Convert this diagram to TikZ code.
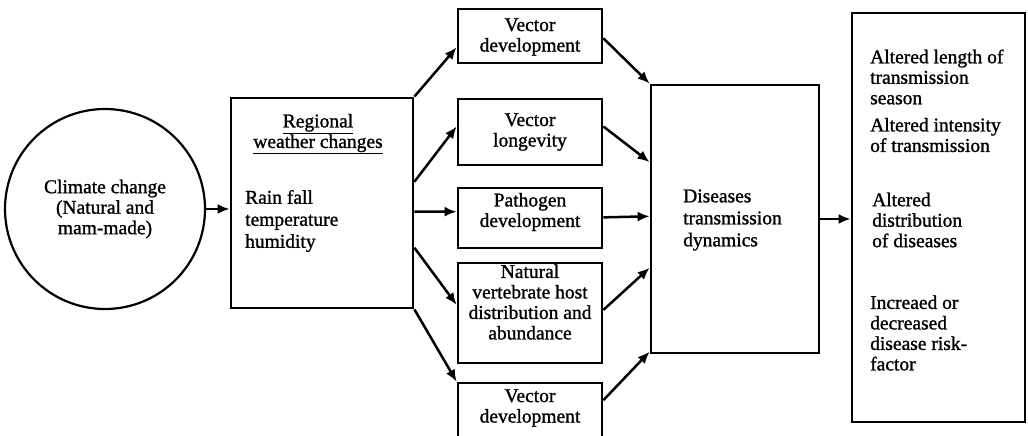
\documentclass[tikz,border=0pt]{standalone}
\usepackage{fontspec}
\setmainfont{Liberation Serif}[FakeBold=1.2,BoldFont=Liberation Serif]
\usetikzlibrary{arrows.meta,calc}
\begin{document}
\begin{tikzpicture}[x=1pt,y=-1pt,
  box/.style={draw,line width=2.8pt,rectangle,inner sep=0pt},
  txt/.style={inner sep=0pt,font=\fontsize{19.5}{20.5}\selectfont\bfseries},
  arr/.style={line width=2.5pt,-{Latex[length=12pt,width=10pt]}}]
\useasboundingbox (0,0) rectangle (1028,436);
% nodes
\node[draw,circle,line width=2.2pt,minimum size=200pt,inner sep=0pt] (circ) at (105,209) {};
\node[box,minimum width=182pt,minimum height=210pt] (reg) at (322,203) {};
\node[box,minimum width=144pt,minimum height=54pt] (v1) at (530,36) {};
\node[box,minimum width=144pt,minimum height=66pt] (v2) at (530,132) {};
\node[box,minimum width=144pt,minimum height=60pt] (v3) at (530,218) {};
\node[box,minimum width=144pt,minimum height=100pt] (v4) at (530,313) {};
\node[box,minimum width=144pt,minimum height=90pt] (v5) at (530,428) {};
\node[box,minimum width=168pt,minimum height=268pt] (dis) at (735,219) {};
\node[box,minimum width=173pt,minimum height=409pt] (out) at (938.5,217.5) {};
% texts
\node[txt,align=center] (tc) at (105,209) {Climate change\\(Natural and\\mam-made)};
\node[txt,align=center] (th) at (318,134) {\underline{Regional}\\\underline{weather changes}};
\node[txt,align=left,anchor=west,font=\fontsize{19.5}{22}\selectfont\bfseries] (tr) at (245,221) {Rain fall\\temperature\\humidity};
\node[txt,align=center] (t1) at (530,37) {Vector\\development};
\node[txt,align=center] (t2) at (530,132) {Vector\\longevity};
\node[txt,align=center] (t3) at (530,212) {Pathogen\\development};
\node[txt,align=center] (t4) at (530,302) {Natural\\vertebrate host\\distribution and\\abundance};
\node[txt,align=center] (t5) at (530,408) {Vector\\development};
\node[txt,align=left,anchor=west,font=\fontsize{19.5}{22}\selectfont\bfseries] (td) at (683,220) {Diseases\\transmission\\dynamics};
\node[txt,align=left,anchor=west] (o1) at (870,77) {Altered length of\\transmission\\season};
\node[txt,align=left,anchor=west] (o2) at (870,135) {Altered intensity\\of transmission};
\node[txt,align=left,anchor=west] (o3) at (872,220) {Altered\\distribution\\of diseases};
\node[txt,align=left,anchor=west] (o4) at (870,333) {Increaed or\\decreased\\disease risk-\\factor};
% connectors
\draw[arr] (circ.east) -- (circ.east -| reg.west);
\draw[arr] (reg.north east) -- ($(v1.north west)!0.7!(v1.south west)$);
\draw[arr] ($(reg.north east)!0.4!(reg.south east)$) -- ($(v2.north west)!0.42!(v2.south west)$);
\draw[arr] ($(reg.north east)!0.54!(reg.south east)$) -- ($(v3.north west)!0.4!(v3.south west)$);
\draw[arr] ($(reg.north east)!0.71!(reg.south east)$) -- ($(v4.north west)!0.42!(v4.south west)$);
\draw[arr] (reg.south east) -- (v5.north west);
\draw[arr] ($(v1.north east)!0.54!(v1.south east)$) -- (dis.north west);
\draw[arr] ($(v2.north east)!0.42!(v2.south east)$) -- ($(dis.north west)!0.29!(dis.south west)$);
\draw[arr] ($(v3.north east)!0.49!(v3.south east)$) -- ($(dis.north west)!0.49!(dis.south west)$);
\draw[arr] ($(v4.north east)!0.47!(v4.south east)$) -- ($(dis.north west)!0.68!(dis.south west)$);
\draw[arr] ($(v5.north east)!0.2!(v5.south east)$) -- ($(dis.north west)!0.99!(dis.south west)$);
\draw[arr] (dis.east) -- (dis.east -| out.west);
\end{tikzpicture}
\end{document}
